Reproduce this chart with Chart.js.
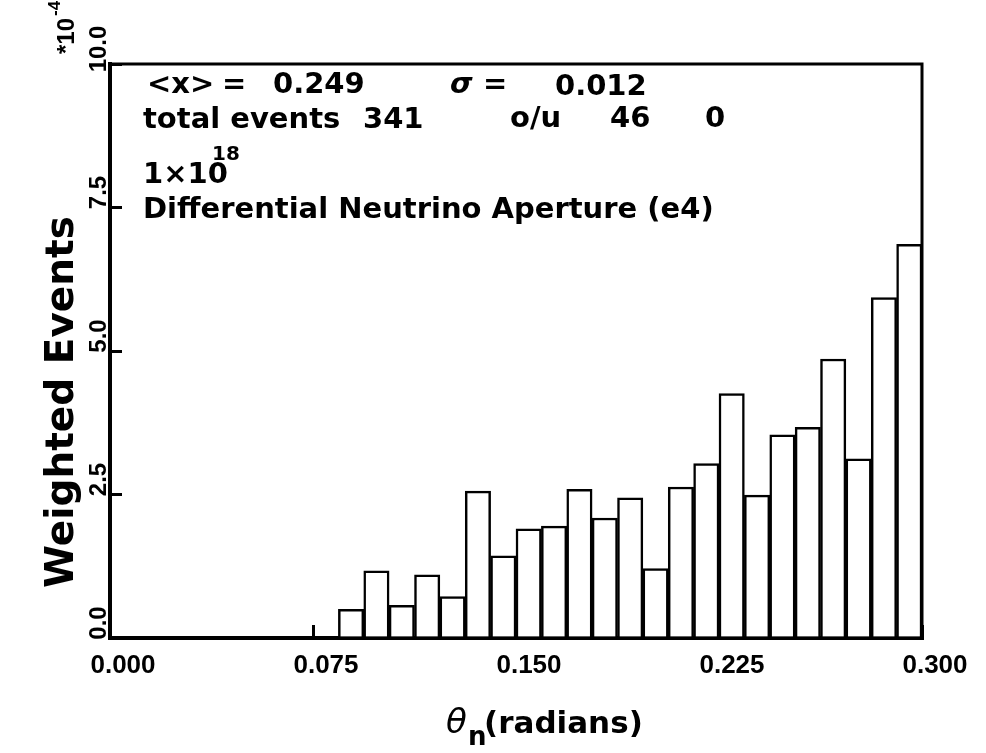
<!DOCTYPE html>
<html>
<head>
<meta charset="utf-8">
<script src="https://cdn.jsdelivr.net/npm/chart.js@4.4.1/dist/chart.umd.min.js"></script>
<style>
  html, body { margin: 0; padding: 0; background: #fff; }
  #wrap { width: 986px; height: 753px; position: relative; }
</style>
</head>
<body>
<div id="wrap"><canvas id="histo"></canvas></div>
<script>
// ==============================
// DATA
// ==============================
const binCount = 32;
const xMin = 0;
const xMax = 0.3;
const binWidth = (xMax - xMin) / binCount;

// weighted events per bin (units of 1e-4)
const binValues = [
  0, 0, 0, 0, 0, 0, 0, 0, 0,
  0.50, 1.17, 0.57, 1.10, 0.72, 2.56, 1.43, 1.90, 1.95, 2.59, 2.09, 2.44,
  1.21, 2.63, 3.04, 4.26, 2.49, 3.54, 3.67, 4.86, 3.12, 5.93, 6.86
];

// bin left edges as category labels
const binLabels = binValues.map((v, i) => (xMin + i * binWidth).toFixed(4));

const xTickLabels = ["0.000", "0.075", "0.150", "0.225", "0.300"];
const yTickLabels = ["0.0", "2.5", "5.0", "7.5", "10.0"];

const statLines = {
  mean: "0.249",
  sigma: "0.012",
  total: "341",
  over: "46",
  under: "0",
  flux: "18",
  title: "Differential Neutrino Aperture (e4)"
};

// ==============================
// TEXT PLUGIN (stats box, axis titles, exponent)
// ==============================
const textPlugin = {
  id: "textPlugin",
  afterDraw(chart) {
    const ctx = chart.ctx;
    const area = chart.chartArea;
    ctx.save();
    ctx.fillStyle = "#000";
    ctx.textBaseline = "alphabetic";
    ctx.textAlign = "left";

    // frame top / right
    ctx.strokeStyle = "#000";
    ctx.lineWidth = 3;
    ctx.beginPath();
    ctx.moveTo(area.left, area.top);
    ctx.lineTo(area.right, area.top);
    ctx.lineTo(area.right, area.bottom);
    ctx.stroke();

    const f = 'bold 29px "DejaVu Sans"';
    ctx.font = f;
    ctx.fillText("<x>", 147, 93);
    ctx.fillText("=", 222, 93);
    ctx.fillText(statLines.mean, 273, 93);
    ctx.font = 'italic bold 29px "DejaVu Sans"';
    ctx.fillText("σ", 450, 93);
    ctx.font = f;
    ctx.fillText("=", 483, 93);
    ctx.fillText(statLines.sigma, 555, 95);

    ctx.fillText("total events", 143, 128);
    ctx.fillText(statLines.total, 363, 128);
    ctx.fillText("o/u", 510, 127);
    ctx.fillText(statLines.over, 610, 127);
    ctx.fillText(statLines.under, 705, 127);

    ctx.fillText("1×10", 143, 183);
    ctx.font = 'bold 20px "DejaVu Sans"';
    ctx.fillText(statLines.flux, 212, 160);

    ctx.font = f;
    ctx.fillText(statLines.title, 143, 218);

    // x axis title: theta_n (radians)
    ctx.font = 'italic 34px "DejaVu Sans"';
    ctx.fillText("θ", 446, 733);
    ctx.font = 'bold 26px "DejaVu Sans"';
    ctx.fillText("n", 468, 745);
    ctx.font = 'bold 31px "DejaVu Sans"';
    ctx.fillText("(radians)", 484, 733);

    // y axis title
    ctx.save();
    ctx.translate(73, 402);
    ctx.rotate(-Math.PI / 2);
    ctx.textAlign = "center";
    ctx.font = 'bold 39px "DejaVu Sans"';
    ctx.fillText("Weighted Events", 0, 0);
    ctx.restore();

    // exponent *10^-4, same column as the axis title
    ctx.save();
    ctx.translate(74, 54);
    ctx.rotate(-Math.PI / 2);
    ctx.font = 'bold 24px "Liberation Sans"';
    ctx.fillText("*10", 0, 0);
    ctx.font = 'bold 17px "Liberation Sans"';
    ctx.fillText("-4", 38, -14);
    ctx.restore();

    ctx.restore();
  }
};

// ==============================
// CHART
// ==============================
const ctx = document.getElementById("histo");

new Chart(ctx, {
  type: "bar",
  data: {
    labels: binLabels,
    datasets: [{
      data: binValues,
      backgroundColor: "#fff",
      borderColor: "#000",
      borderWidth: 2.5,
      barPercentage: 1,
      categoryPercentage: 1
    }]
  },
  options: {
    responsive: true,
    maintainAspectRatio: false,
    animation: false,
    devicePixelRatio: 1,
    layout: { padding: { top: 64, right: 64, left: 0, bottom: 0 } },
    plugins: {
      legend: { display: false },
      tooltip: { enabled: false }
    },
    scales: {
      x: {
        type: "category",
        display: false,
        offset: true
      },
      xt: {
        type: "linear",
        position: "bottom",
        min: xMin,
        max: xMax,
        offset: false,
        afterFit: s => { s.height = 115; },
        ticks: {
          stepSize: 0.075,
          color: "#000",
          font: { family: "Liberation Sans", size: 26, weight: "bold" },
          labelOffset: 13,
          padding: 25,
          maxRotation: 0,
          callback: (v, i) => xTickLabels[i]
        },
        grid: {
          offset: false,
          drawOnChartArea: false,
          tickLength: -13,
          color: "#000",
          lineWidth: 3
        },
        border: { color: "#000", width: 4 }
      },
      y: {
        min: 0,
        max: 10,
        afterFit: s => { s.width = 110; },
        ticks: {
          stepSize: 2.5,
          color: "#000",
          font: { family: "Liberation Sans", size: 24, weight: "bold" },
          minRotation: 90,
          maxRotation: 90,
          crossAlign: "center",
          padding: -1,
          labelOffset: -15,
          callback: (v, i) => yTickLabels[i]
        },
        grid: {
          drawOnChartArea: false,
          tickLength: -12,
          color: "#000",
          lineWidth: 3
        },
        border: { color: "#000", width: 4 }
      }
    }
  },
  plugins: [textPlugin]
});
</script>
</body>
</html>
